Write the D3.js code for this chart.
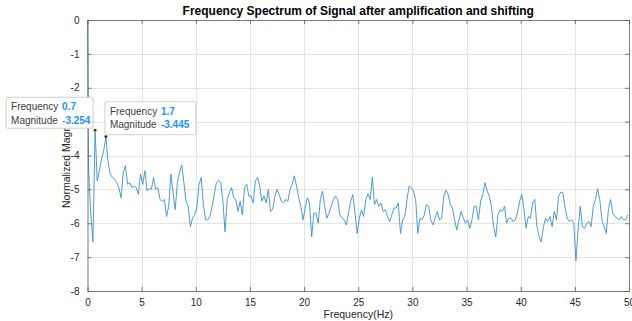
<!DOCTYPE html>
<html>
<head>
<meta charset="utf-8">
<script src="https://cdn.jsdelivr.net/npm/d3@7"></script>
<style>
  body { margin: 0; background: #fff; }
  text { font-family: "Liberation Sans", Arial, sans-serif; }
</style>
</head>
<body>
<div id="chart"></div>
<script>
// magnitude at 0 Hz, then every 0.2 Hz from 0.1 to 49.9 Hz
const dcValue = 0;
const magnitudes = [
  -4.4, -5.7, -6.55, -3.254, -4.75, -4.45, -4.1, -3.85, -3.445, -4.2,
  -4.55, -4.65, -4.7, -4.8, -4.95, -5.25, -4.5, -4.3, -4.85, -4.8,
  -4.95, -4.9, -4.95, -5.15, -4.55, -4.85, -4.45, -5.05, -4.97, -5.0,
  -4.65, -5.0, -4.95, -5.3, -5.35, -5.3, -5.8, -5.5, -4.55, -5.1,
  -5.6, -4.8, -4.5, -4.28, -4.8, -5.35, -5.5, -6.1, -5.85, -5.75,
  -5.55, -4.85, -4.65, -5.45, -5.9, -5.9, -5.8, -5.5, -5.15, -4.8,
  -4.74, -4.8, -5.35, -6.25, -5.3, -5.1, -4.95, -5.25, -5.3, -5.65,
  -5.35, -5.75, -4.95, -4.85, -5.2, -5.2, -5.4, -4.75, -4.65, -4.9,
  -5.35, -5.2, -5.4, -5.0, -5.65, -5.6, -5.2, -5.0, -5.15, -5.35,
  -5.4, -5.3, -5.35, -5.0, -4.85, -4.6, -4.9, -5.25, -5.5, -5.9,
  -5.55, -5.25, -5.4, -6.4, -5.7, -5.7, -6.0, -5.3, -5.05, -5.5,
  -5.85, -5.7, -5.5, -5.3, -5.2, -5.3, -5.75, -5.85, -5.9, -6.05,
  -5.7, -5.35, -5.15, -5.7, -6.3, -5.85, -5.6, -5.8, -5.3, -5.13,
  -5.3, -4.64, -5.45, -5.3, -5.5, -5.4, -5.65, -5.6, -5.8, -5.95,
  -5.75, -5.55, -5.55, -5.4, -6.3, -5.9, -5.8, -5.3, -4.9, -4.95,
  -5.05, -5.3, -6.3, -5.85, -5.9, -5.75, -5.45, -5.5, -5.9, -6.05,
  -5.85, -5.65, -5.9, -5.85, -5.2, -5.03, -5.15, -5.45, -5.55, -5.9,
  -6.2, -5.9, -5.65, -5.85, -6.0, -5.9, -6.15, -5.9, -5.5, -5.5,
  -5.9, -5.35, -5.15, -4.8, -5.05, -5.2, -5.5, -6.1, -6.4, -5.75,
  -5.6, -5.65, -5.5, -6.0, -5.85, -5.85, -5.95, -5.9, -5.7, -5.35,
  -5.15, -5.6, -6.15, -5.8, -5.85, -5.4, -5.3, -6.1, -6.4, -6.55,
  -6.1, -5.85, -5.95, -5.8, -6.1, -5.65, -5.9, -5.2, -5.08, -5.1,
  -5.55, -5.85, -5.95, -5.9, -6.0, -7.1, -6.2, -5.5, -6.1, -6.15,
  -6.0, -5.95, -6.1, -5.5, -5.3, -4.98, -5.3, -5.9, -6.1, -6.3,
  -5.6, -5.3, -5.7, -5.8, -5.85, -5.9, -5.8, -5.9, -5.9, -5.75
];
const frequencies = [0].concat(d3.range(0.1, 50, 0.2));
const xTicks = [0, 5, 10, 15, 20, 25, 30, 35, 40, 45, 50];
const yTicks = [0, -1, -2, -3, -4, -5, -6, -7, -8];

// data tips: [frequency, magnitude]
const tipFreq = [0.7, 1.7];
const tipMag = [-3.254, -3.445];

const width = 632;
const height = 321;
const margin = { top: 20, right: 3, bottom: 30, left: 87.5 };

const n = Math.min(frequencies.length, magnitudes.length + 1);
const data = d3.range(n).map(i => ({ f: frequencies[i], m: i === 0 ? dcValue : magnitudes[i - 1] }));

const svg = d3.select('#chart')
  .append('svg')
  .attr('width', width)
  .attr('height', height);

const x = d3.scaleLinear()
  .domain([0, 50])
  .range([margin.left, width - margin.right]);

const y = d3.scaleLinear()
  .domain([-8, 0])
  .range([height - margin.bottom, margin.top]);

// grid
svg.append('g')
  .attr('stroke', '#e4e4e4')
  .attr('stroke-width', 1)
  .selectAll('line.gx')
  .data(xTicks.slice(1, -1))
  .join('line')
    .attr('x1', d => Math.round(x(d)) + 0.5)
    .attr('x2', d => Math.round(x(d)) + 0.5)
    .attr('y1', y(0))
    .attr('y2', y(-8));

svg.append('g')
  .attr('stroke', '#e4e4e4')
  .attr('stroke-width', 1)
  .selectAll('line.gy')
  .data(yTicks.slice(1, -1))
  .join('line')
    .attr('x1', x(0))
    .attr('x2', x(50))
    .attr('y1', d => Math.round(y(d)) + 0.5)
    .attr('y2', d => Math.round(y(d)) + 0.5);

// signal
const line = d3.line()
  .x(d => x(d.f))
  .y(d => y(d.m));

svg.append('path')
  .datum(data)
  .attr('fill', 'none')
  .attr('stroke', '#3d8fd0')
  .attr('stroke-width', 0.9)
  .attr('stroke-linejoin', 'round')
  .attr('d', line);

// axes (ticks pointing inward, box on)
function styleAxis(g) {
  g.select('.domain').attr('stroke', '#5a5a5a').attr('stroke-width', 0.8);
  g.selectAll('.tick line').attr('stroke', '#5a5a5a').attr('stroke-width', 0.8);
  g.selectAll('.tick text').attr('fill', '#262626').attr('font-size', '10px');
}
const plain = d => String(d);

svg.append('g')
  .attr('transform', `translate(0,${y(-8)})`)
  .call(d3.axisBottom(x).tickValues(xTicks).tickFormat(plain).tickSize(-4).tickPadding(8).tickSizeOuter(0))
  .call(styleAxis);

svg.append('g')
  .attr('transform', `translate(0,${y(0)})`)
  .call(d3.axisTop(x).tickValues(xTicks).tickSize(-4).tickFormat('').tickSizeOuter(0))
  .call(styleAxis);

svg.append('g')
  .attr('transform', `translate(${x(0)},0)`)
  .call(d3.axisLeft(y).tickValues(yTicks).tickFormat(plain).tickSize(-4).tickPadding(8).tickSizeOuter(0))
  .call(styleAxis);

svg.append('g')
  .attr('transform', `translate(${x(50)},0)`)
  .call(d3.axisRight(y).tickValues(yTicks).tickSize(-4).tickFormat('').tickSizeOuter(0))
  .call(styleAxis);

// labels
svg.append('text')
  .attr('x', (x(0) + x(50)) / 2)
  .attr('y', 15)
  .attr('text-anchor', 'middle')
  .attr('font-size', '12px')
  .attr('font-weight', 'bold')
  .attr('fill', '#000')
  .text('Frequency Spectrum of Signal after amplification and shifting');

svg.append('text')
  .attr('x', (x(0) + x(50)) / 2)
  .attr('y', 318)
  .attr('text-anchor', 'middle')
  .attr('font-size', '10.5px')
  .attr('fill', '#262626')
  .text('Frequency(Hz)');

svg.append('text')
  .attr('transform', `translate(70,${(y(0) + y(-8)) / 2}) rotate(-90)`)
  .attr('text-anchor', 'middle')
  .attr('font-size', '10.5px')
  .attr('fill', '#262626')
  .text('Normalized Magnitude');

// data tips
const tips = tipFreq.map((f, i) => ({ f, m: tipMag[i] }));
const tipBox = [
  { w: 87, h: 31, dx: -89, dy: -33 },
  { w: 91, h: 33, dx: -1, dy: -35 }
];

tips.forEach((t, i) => {
  const px = x(t.f);
  const py = y(t.m);
  const b = tipBox[i];
  const g = svg.append('g').attr('transform', `translate(${px + b.dx},${py + b.dy})`);
  g.append('rect')
    .attr('width', b.w)
    .attr('height', b.h)
    .attr('rx', 1.5)
    .attr('fill', '#fff')
    .attr('stroke', '#c4c4c4')
    .attr('stroke-width', 0.8);
  const rows = [['Frequency', String(t.f)], ['Magnitude', t.m.toFixed(3)]];
  rows.forEach((r, j) => {
    const ty = 13 + j * 13.5;
    g.append('text')
      .attr('x', 5)
      .attr('y', ty)
      .attr('font-size', '10px')
      .attr('fill', '#404040')
      .text(r[0]);
    g.append('text')
      .attr('x', 56)
      .attr('y', ty)
      .attr('font-size', '10px')
      .attr('font-weight', 'bold')
      .attr('fill', '#1e90ff')
      .text(r[1]);
  });
  svg.append('circle')
    .attr('cx', px)
    .attr('cy', py)
    .attr('r', 1.6)
    .attr('fill', '#222')
    .attr('stroke', '#e0e0a0')
    .attr('stroke-width', 0.5);
});
</script>
</body>
</html>
